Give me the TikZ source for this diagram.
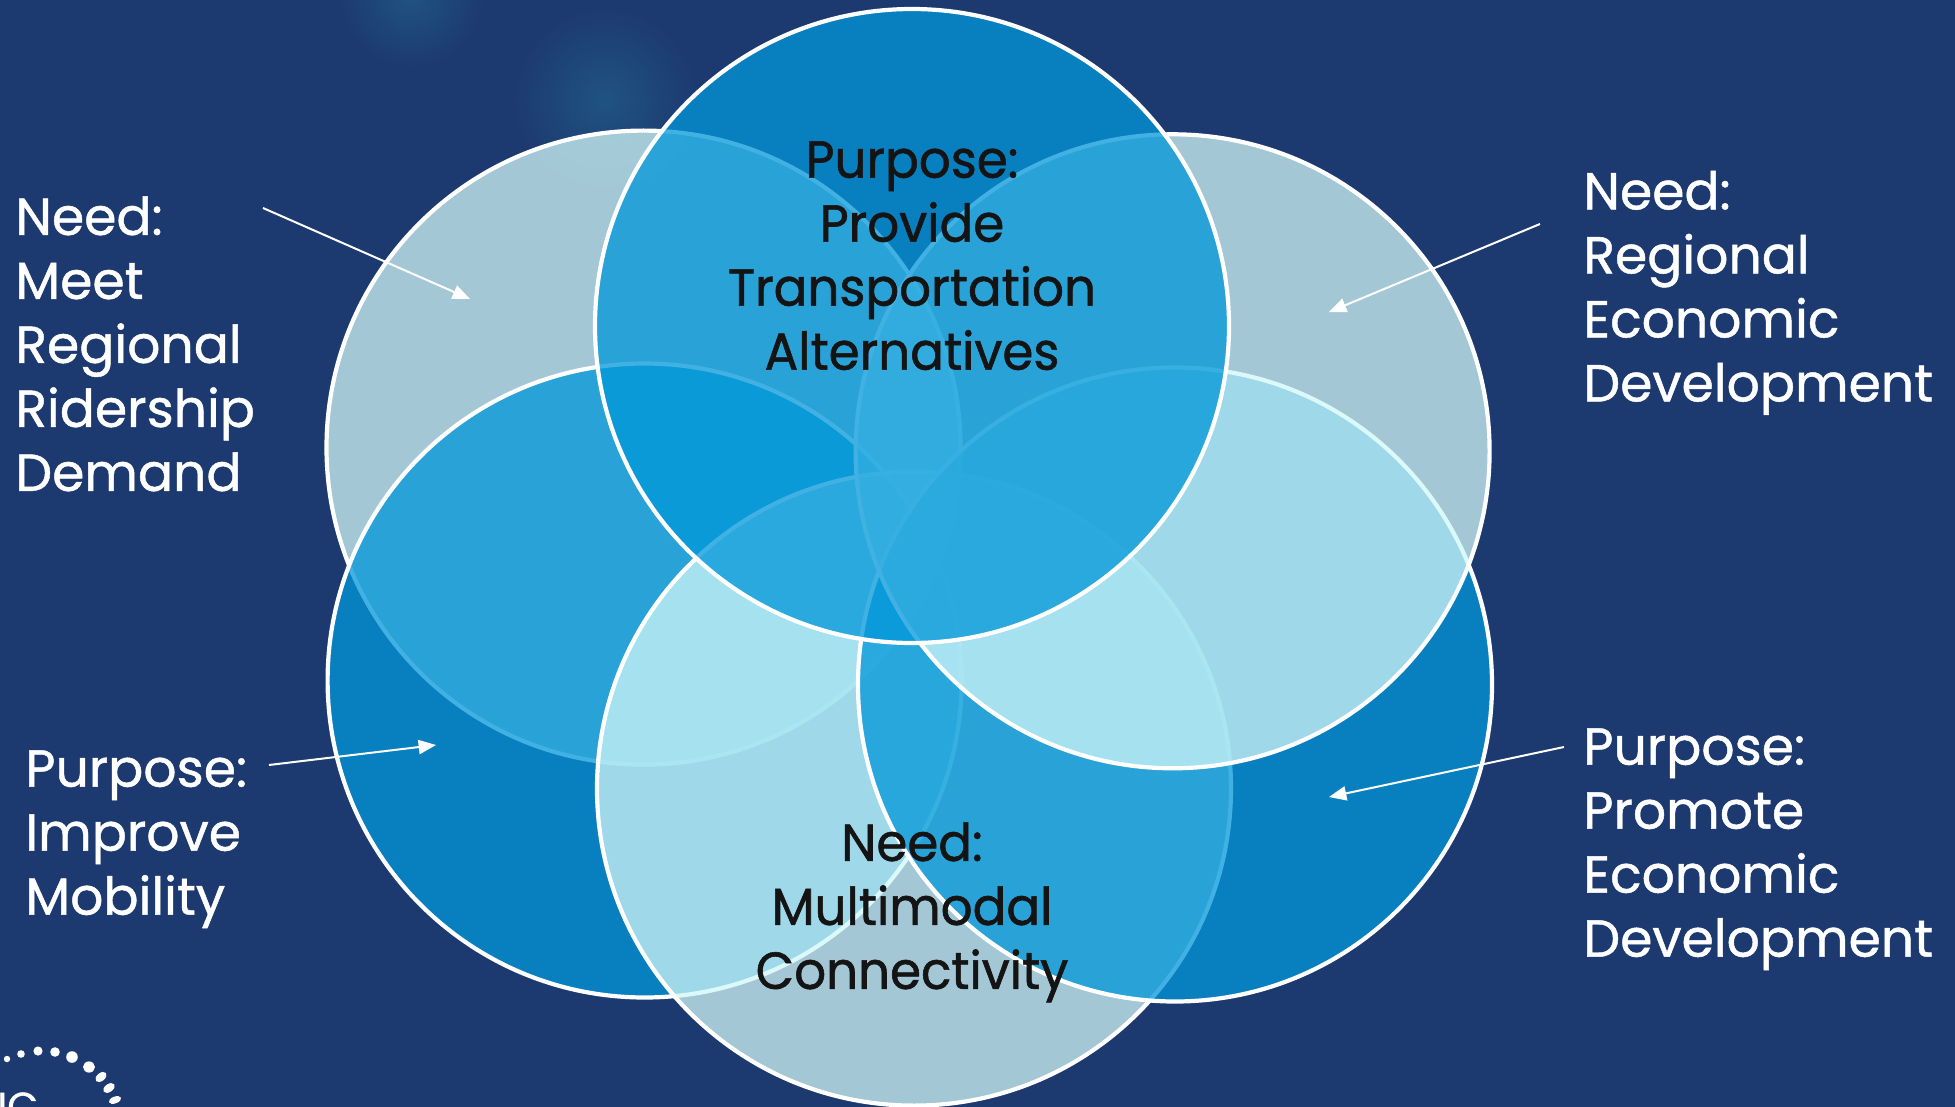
\documentclass[tikz,border=0pt]{standalone}
\usepackage{fontspec}
\usepackage{xcolor}
\setmainfont{Poppins}
\newfontfamily\sidefont{Poppins}[RawFeature={embolden=0.9}]
\newfontfamily\midfont{Poppins}[RawFeature={embolden=1.1},FakeStretch=0.96]
\usetikzlibrary{arrows}
\definecolor{navybg}{HTML}{1D3A70}
\definecolor{blobblue}{HTML}{1F5382}
\definecolor{diskblue}{HTML}{0197D9}
\definecolor{diskpale}{HTML}{D1F7F8}
\definecolor{inktext}{HTML}{141414}

\begin{document}
\begin{tikzpicture}[x=.5pt,y=-.5pt]
\tikzset{disk/.style={circle,draw=white,line width=2.1pt,minimum size=317pt,inner sep=0pt,outer sep=0pt,fill opacity=.75}}
\tikzset{palefill/.style={disk,fill=diskpale}}
\tikzset{bluefill/.style={disk,fill=diskblue}}
\tikzset{sidelabel/.style={text=white,align=left,anchor=north west,inner sep=0pt,font=\sidefont\fontsize{26}{32}\selectfont}}
\tikzset{midlabel/.style={text=inktext,align=center,anchor=north,inner sep=0pt,font=\midfont\fontsize{26}{32}\selectfont}}
\tikzset{pointer/.style={draw=white,line width=1pt,-triangle 45}}

\clip (0,0) rectangle (1955,1107);
\fill[navybg] (0,0) rectangle (1955,1107);
\shade[inner color=blobblue,outer color=navybg] (411,-5) circle (36pt);
\shade[inner color=blobblue,outer color=navybg] (605,100) circle (46pt);

\node[palefill] (meetdisk) at (643.5,447.6) {};
\node[bluefill] (mobilitydisk) at (644.6,680.5) {};
\node[palefill] (connectdisk) at (914,788.6) {};
\node[bluefill] (promotedisk) at (1175,684.5) {};
\node[palefill] (regiondisk) at (1172.6,451.3) {};
\node[bluefill] (providedisk) at (912,326) {};

\node[sidelabel] (meetlabel) at (15,196) {Need:\\Meet\\Regional\\Ridership\\Demand};
\node[sidelabel] (mobilitylabel) at (25,750) {Purpose:\\Improve\\Mobility};
\node[sidelabel] (regionlabel) at (1583,170.5) {Need:\\Regional\\Economic\\Development};
\node[sidelabel] (promotelabel) at (1583,728) {Purpose:\\Promote\\Economic\\Development};
\node[midlabel] (providelabel) at (912,141) {Purpose:\\Provide\\Transportation\\Alternatives};
\node[midlabel] (connectlabel) at (912,822) {Need:\\Multimodal\\Connectivity};

\coordinate (meetfrom) at (263,208);
\coordinate (meetto) at (470,299);
\coordinate (regionfrom) at (1540,224);
\coordinate (regionto) at (1329,312);
\coordinate (mobilityfrom) at (269,765);
\coordinate (mobilityto) at (436,745);
\coordinate (promotefrom) at (1564,747);
\coordinate (promoteto) at (1329,797);
\draw[pointer] (meetfrom) -- (meetto);
\draw[pointer] (regionfrom) -- (regionto);
\draw[pointer] (mobilityfrom) -- (mobilityto);
\draw[pointer] (promotefrom) -- (promoteto);

\foreach \dotx/\doty/\dotr/\dots/\dota in {7/1059/1.6/1.6/0,21/1054/1.9/1.9/0,38/1051/2.3/2.3/0,55/1052/2.4/2.4/0,72/1057/2.9/2.9/0,89/1067/3/2.8/0,101/1077/3.2/2/40,109/1088/3.2/2/35,115/1100/3.2/1.7/20}
  \fill[white] (\dotx,\doty) ellipse [x radius=\dotr pt,y radius=\dots pt,rotate=\dota];
\node[text=white,anchor=north west,inner sep=0pt,font=\sidefont\fontsize{20}{20}\selectfont] (logotext) at (-3,1092) {IC};
\end{tikzpicture}
\end{document}
